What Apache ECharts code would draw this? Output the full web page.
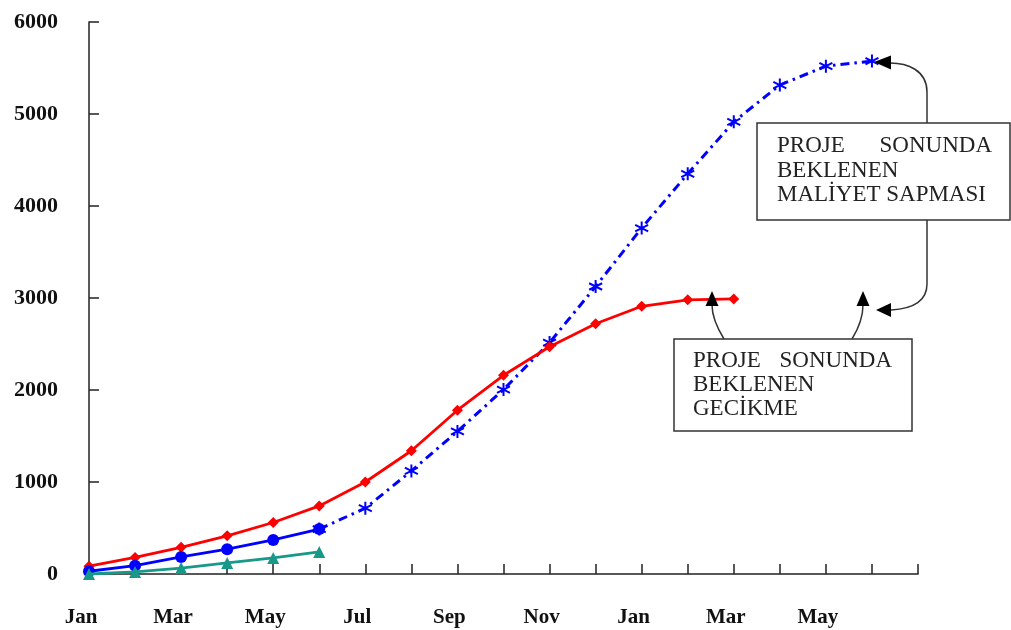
<!DOCTYPE html>
<html>
<head>
<meta charset="utf-8">
<script src="https://cdn.jsdelivr.net/npm/echarts@6/dist/echarts.min.js"></script>
<style>
  html, body { margin: 0; padding: 0; background: #ffffff; }
  #chart { width: 1011px; height: 630px; }
</style>
</head>
<body>
<div id="chart"></div>
<script>
// Months of the project timeline (two calendar years, Jan .. Jul)
const months = ['Jan', 'Feb', 'Mar', 'Apr', 'May', 'Jun', 'Jul', 'Aug', 'Sep', 'Oct', 'Nov', 'Dec',
                'Jan', 'Feb', 'Mar', 'Apr', 'May', 'Jun', 'Jul'];

// Planned cost curve (red, diamonds)
const planned = [85, 180, 290, 415, 560, 740, 1000, 1340, 1780, 2160, 2470, 2720, 2910, 2980, 2990];
// Actual cost to date (blue, circles)
const actualCost = [30, 90, 185, 270, 370, 488];
// Earned value to date (green, triangles)
const earnedValue = [0, 22, 65, 120, 175, 240];
// Forecast cost through project end (blue dash-dot, asterisks), starts at Jun
const forecast = [null, null, null, null, null, 488, 715, 1120, 1550, 2005, 2515, 3125, 3760, 4350, 4915, 5315, 5520, 5575];

const yTicks = { min: 0, max: 6000, step: 1000 };

const serif = '"Liberation Serif", "Times New Roman", serif';
const asterisk = 'path://M0,-6L0,6M-5.2,-3L5.2,3M-5.2,3L5.2,-3';

const chart = echarts.init(document.getElementById('chart'), null, { renderer: 'canvas' });

const noteFont = '23px ' + serif;
const noteColor = '#222';
const edge = '#333';

function text(x, y, s, align) {
  return { type: 'text', x: x, y: y, z: 100,
    style: { text: s, font: noteFont, fill: noteColor, textAlign: align || 'left', textVerticalAlign: 'middle' } };
}
function seg(x1, y1, x2, y2) {
  return { type: 'line', z: 100, shape: { x1: x1, y1: y1, x2: x2, y2: y2 }, style: { stroke: edge, lineWidth: 1.5 } };
}
function curve(x1, y1, c1x, c1y, c2x, c2y, x2, y2) {
  return { type: 'bezierCurve', z: 100,
    shape: { x1: x1, y1: y1, cpx1: c1x, cpy1: c1y, cpx2: c2x, cpy2: c2y, x2: x2, y2: y2 },
    style: { stroke: edge, lineWidth: 1.5, fill: null } };
}
function head(points) {
  return { type: 'polygon', z: 101, shape: { points: points }, style: { fill: '#000' } };
}

const option = {
  animation: false,
  backgroundColor: '#ffffff',
  grid: { left: 89, right: 93, top: 22, bottom: 56, containLabel: false },
  xAxis: {
    type: 'category',
    data: months,
    boundaryGap: false,
    axisLine: { lineStyle: { color: '#222', width: 1.5 } },
    axisTick: { inside: true, length: 10, interval: 0, lineStyle: { color: '#222', width: 1.5 } },
    axisLabel: {
      interval: 0,
      formatter: function (v, i) { return (i % 2 === 0 && i < months.length - 1) ? v : ''; },
      fontFamily: serif, fontWeight: 'bold', fontSize: 21, color: '#111',
      margin: 33, padding: [0, 16, 0, 0]
    },
    splitLine: { show: false }
  },
  yAxis: {
    type: 'value',
    min: yTicks.min, max: yTicks.max, interval: yTicks.step,
    axisLine: { show: true, lineStyle: { color: '#222', width: 1.5 } },
    axisTick: { show: true, inside: true, length: 10, lineStyle: { color: '#222', width: 1.5 } },
    axisLabel: {
      formatter: function (v) { return String(v); },
      fontFamily: serif, fontWeight: 'bold', fontSize: 22, color: '#111', margin: 31, padding: [0, 0, 7, 0]
    },
    splitLine: { show: false }
  },
  series: [
    {
      name: 'Forecast', type: 'line', data: forecast, connectNulls: false,
      symbol: asterisk, symbolSize: [13, 13], z: 2,
      itemStyle: { color: 'rgba(0,0,0,0)', borderColor: '#0000ff', borderWidth: 2 },
      lineStyle: { color: '#0000ff', width: 3, type: [9, 5, 2.5, 5] }
    },
    {
      name: 'Planned', type: 'line', data: planned,
      symbol: 'diamond', symbolSize: 11, z: 3,
      itemStyle: { color: '#ff0000' },
      lineStyle: { color: '#ff0000', width: 2.8 }
    },
    {
      name: 'Actual', type: 'line', data: actualCost,
      symbol: 'circle', symbolSize: 12, z: 4,
      itemStyle: { color: '#0000ff' },
      lineStyle: { color: '#0000ff', width: 2.8 }
    },
    {
      name: 'Earned', type: 'line', data: earnedValue,
      symbol: 'triangle', symbolSize: 12, z: 5,
      itemStyle: { color: '#17998a' },
      lineStyle: { color: '#17998a', width: 2.8 }
    }
  ],
  graphic: [
    // cost variance note
    { type: 'rect', z: 99, shape: { x: 757, y: 123, width: 253, height: 97 },
      style: { fill: '#ffffff', stroke: edge, lineWidth: 1.5 } },
    text(777, 146, 'PROJE'), text(992, 146, 'SONUNDA', 'right'),
    text(777, 171, 'BEKLENEN'), text(777, 195, 'MALİYET SAPMASI'),
    seg(927, 123, 927, 92),
    curve(927, 92, 927, 70, 907, 63, 890, 63),
    head([[874, 62], [891, 55.5], [891, 69.5]]),
    seg(927, 220, 927, 284),
    curve(927, 284, 927, 304, 908, 309, 891, 310),
    head([[876, 310], [891, 303], [891, 317]]),
    // schedule delay note
    { type: 'rect', z: 99, shape: { x: 674, y: 339, width: 238, height: 92 },
      style: { fill: '#ffffff', stroke: edge, lineWidth: 1.5 } },
    text(693, 361, 'PROJE'), text(892, 361, 'SONUNDA', 'right'),
    text(693, 385, 'BEKLENEN'), text(693, 409, 'GECİKME'),
    curve(724, 339, 716, 326, 712, 316, 712, 305),
    head([[712, 291], [705.5, 306], [718.5, 306]]),
    curve(852, 339, 860, 326, 863, 316, 863, 305),
    head([[863, 291], [856.5, 306], [869.5, 306]])
  ]
};

chart.setOption(option);
</script>
</body>
</html>
